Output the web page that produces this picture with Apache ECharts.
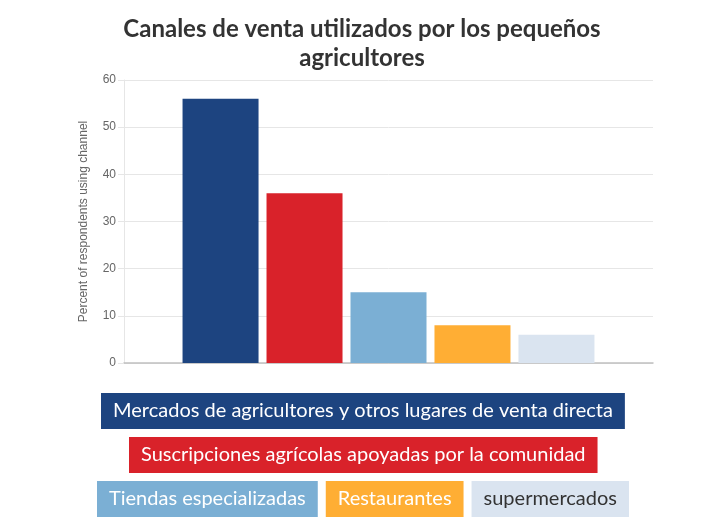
<!DOCTYPE html>
<html><head><meta charset="utf-8">
<script src="https://cdn.jsdelivr.net/npm/echarts@6/dist/echarts.min.js"></script>
<style>html,body{margin:0;padding:0;background:#fff}#c{width:710px;height:527px}</style>
</head><body><div id="c"></div>
<script>
const seriesNames = ["Mercados de agricultores y otros lugares de venta directa","Suscripciones agrícolas apoyadas por la comunidad","Tiendas especializadas","Restaurantes","supermercados"];
const seriesValues = [56, 36, 15, 8, 6];
const seriesColors = ["#1d4480","#d9222a","#7bafd4","#ffae34","#dae4f0"];
const legendTextColors = ["#fff","#fff","#fff","#fff","#333"];
const legendRows = [[0],[1],[2,3,4]];
const legendRowTops = [388,432,476];
const yTicks = [0,10,20,30,40,50,60];

const LEG_FONT = '20px Lato', LEG_PAD = 12, LEG_GAP = 3, ICON_GAP = 5, LEG_CENTER = 363;
const ctx = document.createElement('canvas').getContext('2d');
ctx.font = LEG_FONT;
function rowLeft(row){
  let w = 0;
  row.forEach((i,k)=>{ w += ctx.measureText(seriesNames[i]).width + 2*LEG_PAD; if(k>0) w += LEG_GAP + ICON_GAP; });
  return Math.round(LEG_CENTER - w/2 - ICON_GAP);
}

const chart = echarts.init(document.getElementById('c'));
chart.setOption({
  animation:false,
  title:{text:"Canales de venta utilizados por los pequeños\nagricultores",left:357,top:10,textAlign:'center',
    textStyle:{fontFamily:'Lato',fontWeight:'bold',fontSize:24,color:'#333',lineHeight:29}},
  grid:{left:124,right:57,top:80,bottom:164},
  xAxis:{type:'category',data:[''],axisTick:{show:false},axisLabel:{show:false},
    axisLine:{lineStyle:{color:'#c0c0c0',width:1.5}}},
  yAxis:{type:'value',min:yTicks[0],max:yTicks[yTicks.length-1],interval:10,
    name:'Percent of respondents using channel',nameLocation:'middle',nameGap:34,nameRotate:90,
    nameTextStyle:{fontFamily:'Arial',fontSize:12,color:'#666'},
    axisLine:{show:true,lineStyle:{color:'#e6e6e6'}},
    axisTick:{show:true,length:6,lineStyle:{color:'#e6e6e6'}},
    axisLabel:{fontFamily:'Arial',fontSize:12,color:'#666',margin:8},
    splitLine:{lineStyle:{color:'#e6e6e6'}}},
  legend:legendRows.map((row,r)=>({left:rowLeft(row),top:legendRowTops[r],padding:[5,0,5,0],itemGap:LEG_GAP,icon:'none',itemWidth:0,itemHeight:0,selectedMode:false,
    data:row.map(i=>({name:seriesNames[i],textStyle:{backgroundColor:seriesColors[i],color:legendTextColors[i],
      padding:[8,LEG_PAD,8,LEG_PAD],fontFamily:'Lato',fontSize:20,lineHeight:20}}))})),
  series:seriesNames.map((n,i)=>({name:n,type:'bar',data:[seriesValues[i]],barWidth:76,barGap:'10.5%',
    itemStyle:{color:seriesColors[i]}}))
});
</script></body></html>
